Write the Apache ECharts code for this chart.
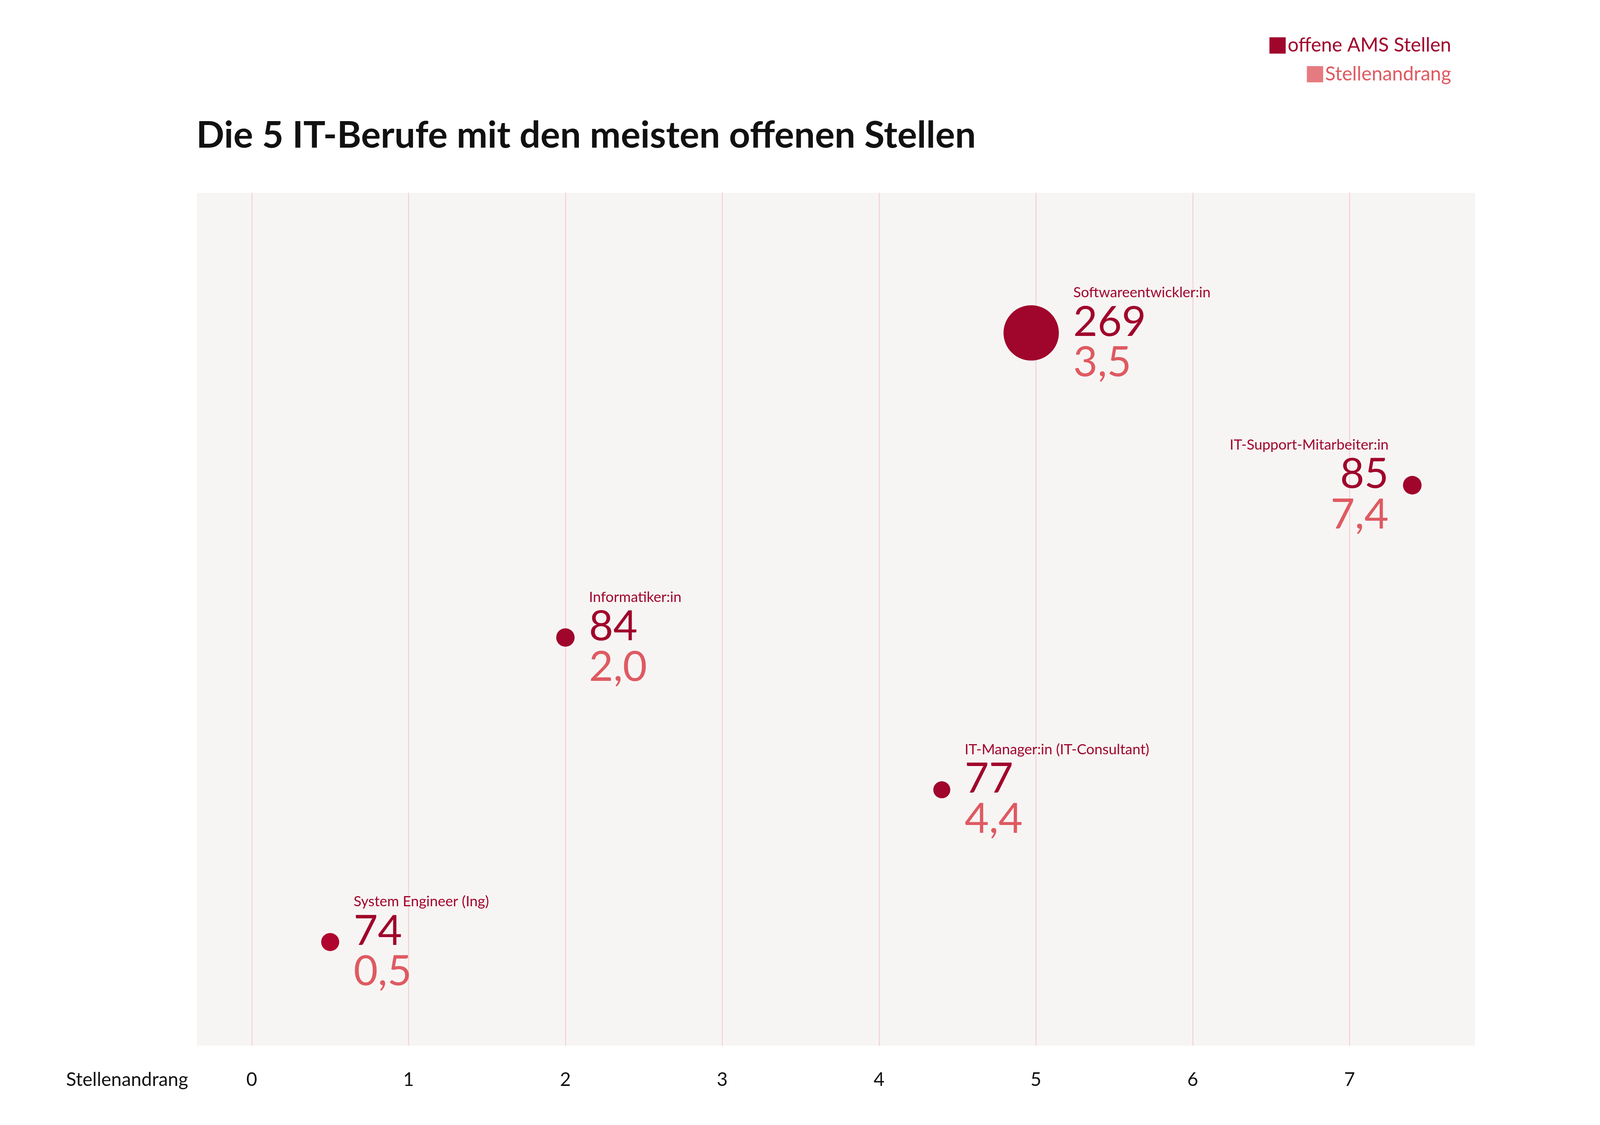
<!DOCTYPE html>
<html>
<head>
<meta charset="utf-8">
<style>html,body{margin:0;padding:0;background:#fff;overflow:hidden}#c{width:100vw;height:100vh}</style>
<script src="https://cdn.jsdelivr.net/npm/echarts@6/dist/echarts.min.js"></script>
</head>
<body>
<div id="c"></div>
<script>
// Berufe, von oben nach unten
const jobs = ['Softwareentwickler:in', 'IT-Support-Mitarbeiter:in', 'Informatiker:in', 'IT-Manager:in (IT-Consultant)', 'System Engineer (Ing)'];
const rows = [5, 4, 3, 2, 1];
const openJobs = [269, 85, 84, 77, 74];
const andrang = [3.5, 7.4, 2.0, 4.4, 0.5];
// horizontal position as drawn in the original chart
const xPos = [4.97, 7.4, 2.0, 4.4, 0.5];
const ticks = [0, 1, 2, 3, 4, 5, 6, 7];

const dark = '#a0052b';
const light = '#df5a61';
const font = 'Lato';

// scale everything to the actual window
const s = window.innerWidth / 5120;
let px = v => v * s;
let fmt = v => v.toFixed(1).replace('.', ',');

let data = jobs.map((name, i) => {
    let left = name === 'IT-Support-Mitarbeiter:in';
    return {
        name: name,
        value: [xPos[i], rows[i], openJobs[i], andrang[i]],
        label: {
            position: left ? 'left' : 'right',
            align: left ? 'right' : 'left'
        }
    };
});

let chart = echarts.init(document.getElementById('c'));
chart.setOption({
    textStyle: { fontFamily: font },
    title: {
        text: 'Die 5 IT-Berufe mit den meisten offenen Stellen',
        left: px(622), top: px(370),
        textStyle: { fontSize: px(118), fontWeight: 'bold', color: '#111', fontFamily: font }
    },
    legend: [{
        data: ['offene AMS Stellen'],
        right: px(470), top: px(108),
        itemWidth: px(52), itemHeight: px(52), icon: 'rect',
        textStyle: { color: dark, fontSize: px(62), fontFamily: font }
    }, {
        data: ['Stellenandrang'],
        right: px(470), top: px(200),
        itemWidth: px(52), itemHeight: px(52), icon: 'rect',
        textStyle: { color: light, fontSize: px(62), fontFamily: font }
    }],
    grid: {
        left: px(630), right: px(400), top: px(617), bottom: px(254),
        show: true, backgroundColor: '#f7f5f4', borderWidth: 0
    },
    xAxis: {
        type: 'value', min: -0.35, max: 7.8,
        name: 'Stellenandrang', nameLocation: 'start', nameGap: px(28),
        nameTextStyle: { fontSize: px(60), color: '#111', verticalAlign: 'top', padding: [px(80), 0, 0, 0] },
        axisLine: { show: false }, axisTick: { show: false }, splitLine: { show: false },
        axisLabel: { customValues: ticks, fontSize: px(60), color: '#111', margin: px(80) }
    },
    yAxis: {
        type: 'value', min: 0.32, max: 5.92, show: false
    },
    series: [{
        name: 'offene AMS Stellen',
        type: 'scatter',
        itemStyle: { color: dark, opacity: 1 },
        symbolSize: v => px((16 + (v[2] - 74) * 38 / 195) * 3.28),
        data: data,
        label: {
            show: true,
            distance: px(46),
            formatter: p => '{n|' + p.name + '}\n{v|' + p.value[2] + '}\n{a|' + fmt(p.value[3]) + '}',
            rich: {
                n: { fontSize: px(46), lineHeight: px(66), color: dark, fontFamily: font },
                v: { fontSize: px(134), lineHeight: px(124), color: dark, fontFamily: font },
                a: { fontSize: px(134), lineHeight: px(134), color: light, fontFamily: font }
            }
        },
        markLine: {
            silent: true, symbol: 'none', z: 0,
            label: { show: false },
            lineStyle: { color: '#f3cfd2', width: px(3), type: 'solid' },
            data: ticks.map(t => ({ xAxis: t }))
        },
        z: 5
    }, {
        name: 'Stellenandrang',
        type: 'scatter',
        itemStyle: { color: light },
        data: []
    }]
});
</script>
</body>
</html>
